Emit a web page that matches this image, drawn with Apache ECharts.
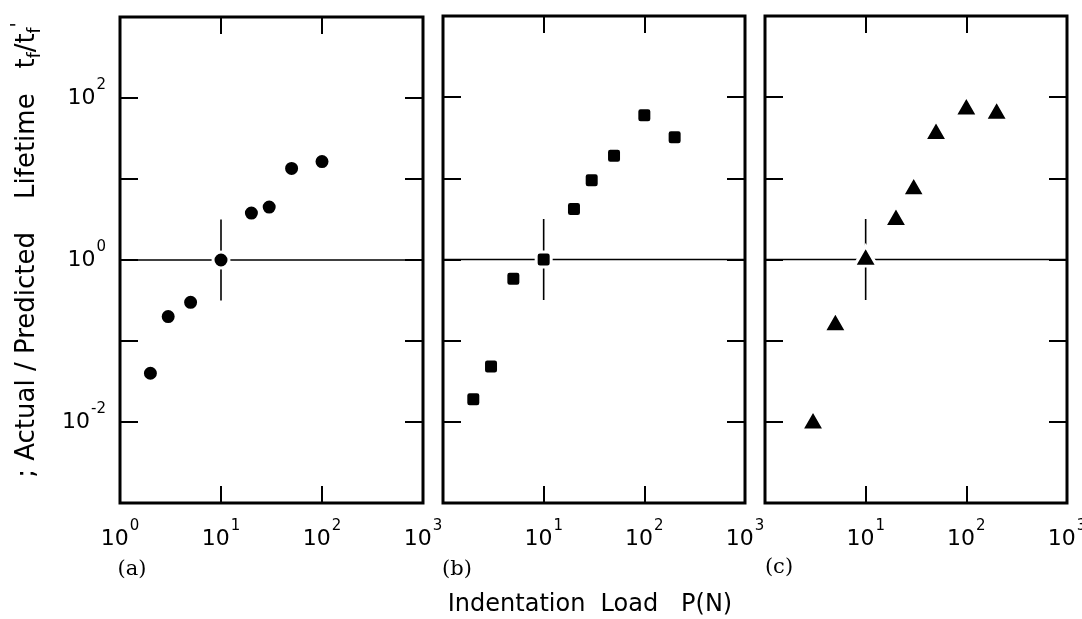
<!DOCTYPE html>
<html><head><meta charset="utf-8">
<script src="https://cdn.jsdelivr.net/npm/echarts@6/dist/echarts.min.js"></script>
<style>html,body{margin:0;padding:0;background:#fff}#c{width:1082px;height:619px}</style>
</head><body><div id="c"></div>
<script>
// ---- data ----
const loadsA = [2, 3, 5, 10, 20, 30, 50, 100];
const ratioA = [0.040, 0.20, 0.30, 1.0, 3.8, 4.5, 13.5, 16.4];
const loadsB = [2, 3, 5, 10, 20, 30, 50, 100, 200];
const ratioB = [0.019, 0.048, 0.58, 1.0, 4.2, 9.5, 19, 60, 32];
const loadsC = [3, 5, 10, 20, 30, 50, 100, 200];
const ratioC = [0.0106, 0.172, 1.1, 3.4, 8.1, 39, 78, 69];
const xExtent = [1, 1000];
const yExtent = [0.001, 1000];
const refLevel = 1;
const crossLoad = 10;
const crossSpan = [0.316, 3.16];
const yLabelExponents = [-2, 0, 2];
const xLabelExponentsA = [0, 1, 2, 3];
const xLabelExponentsBC = [1, 2, 3];
const panelLabels = ['(a)', '(b)', '(c)'];
const xTitle = 'Indentation  Load   P(N)';

// ---- layout ----
const grids = [
  {left: 120, top: 17, width: 303, height: 486},
  {left: 443, top: 16, width: 302, height: 487},
  {left: 765, top: 16, width: 302, height: 487}
];
const FONT = 'DejaVu Sans';
const rich = {
  b: {fontSize: 22, fontFamily: FONT, color: '#000', lineHeight: 40},
  s: {fontSize: 15, fontFamily: FONT, color: '#000', verticalAlign: 'top', padding: [0, 0, 0, 1]}
};
function powLabel(exps) {
  return function (v) {
    const e = Math.round(Math.log10(v));
    if (exps.indexOf(e) < 0) return '';
    return '{b|10}{s|' + (e < 0 ? '-' + (-e) : e) + '}';
  };
}
const panels = [
  {xs: loadsA, ys: ratioA, symbol: 'circle', size: 16, xExps: xLabelExponentsA, yLabels: true},
  {xs: loadsB, ys: ratioB, symbol: 'roundRect', size: 15, xExps: xLabelExponentsBC, yLabels: false},
  {xs: loadsC, ys: ratioC, symbol: 'triangle', size: [23, 20], xExps: xLabelExponentsBC, yLabels: false}
];

const xAxes = [], yAxes = [], series = [];
const tickStyle = {lineStyle: {color: '#000', width: 2}};
panels.forEach(function (p, i) {
  xAxes.push({gridIndex: i, type: 'log', logBase: 10, min: xExtent[0], max: xExtent[1], position: 'bottom',
    axisLine: {show: false}, splitLine: {show: false},
    axisTick: Object.assign({inside: true, length: 17}, tickStyle),
    axisLabel: {formatter: powLabel(p.xExps), rich: rich, fontSize: 22, fontFamily: FONT, color: '#000',
      margin: 16, showMinLabel: true, showMaxLabel: true, hideOverlap: false}});
  xAxes.push({gridIndex: i, type: 'log', logBase: 10, min: xExtent[0], max: xExtent[1], position: 'top',
    axisLine: {show: false}, splitLine: {show: false}, axisLabel: {show: false},
    axisTick: Object.assign({inside: true, length: 17}, tickStyle)});
  yAxes.push({gridIndex: i, type: 'log', logBase: 10, min: yExtent[0], max: yExtent[1], position: 'left',
    axisLine: {show: false}, splitLine: {show: false},
    axisTick: Object.assign({inside: true, length: 18}, tickStyle),
    axisLabel: p.yLabels ? {formatter: powLabel(yLabelExponents), rich: rich, fontSize: 22, fontFamily: FONT, color: '#000', margin: 14} : {show: false}});
  yAxes.push({gridIndex: i, type: 'log', logBase: 10, min: yExtent[0], max: yExtent[1], position: 'right',
    axisLine: {show: false}, splitLine: {show: false}, axisLabel: {show: false},
    axisTick: Object.assign({inside: true, length: 18}, tickStyle)});

  const xi = i * 2, yi = i * 2;
  series.push({type: 'line', xAxisIndex: xi, yAxisIndex: yi, symbol: 'none', silent: true, z: 1,
    lineStyle: {color: '#000', width: 1.6},
    data: [[xExtent[0], refLevel], [xExtent[1], refLevel]]});
  series.push({type: 'line', xAxisIndex: xi, yAxisIndex: yi, symbol: 'none', silent: true, z: 1,
    lineStyle: {color: '#000', width: 1.6},
    data: [[crossLoad, crossSpan[0]], [crossLoad, crossSpan[1]]]});
  series.push({type: 'scatter', xAxisIndex: xi, yAxisIndex: yi, z: 5,
    symbol: p.symbol, symbolSize: p.size,
    itemStyle: {color: '#000', borderColor: '#fff', borderWidth: 3, opacity: 1},
    data: p.xs.map(function (x, k) { return [x, p.ys[k]]; })});
});

const gridOpts = grids.map(function (g) {
  return Object.assign({show: true, borderColor: '#000', borderWidth: 3, backgroundColor: 'transparent',
    containLabel: false, outerBoundsMode: 'none'}, g);
});

const graphics = [
  {type: 'text', x: 27, y: 250, rotation: Math.PI / 2, style: {
    text: '{m|; Actual / Predicted    Lifetime   t}{sub|f}{m|/t}{sub|f}{sup|\'}',
    align: 'center', verticalAlign: 'middle',
    rich: {
      m: {fontSize: 26, fontFamily: FONT, fill: '#000', lineHeight: 34},
      sub: {fontSize: 17, fontFamily: FONT, fill: '#000', lineHeight: 12, verticalAlign: 'bottom'},
      sup: {fontSize: 19, fontFamily: FONT, fill: '#000', lineHeight: 10, verticalAlign: 'top'}
    }}},
  {type: 'text', x: 590, y: 605, style: {text: xTitle, fontSize: 24, fontFamily: FONT, fill: '#000', align: 'center', verticalAlign: 'middle'}}
];
const labelPos = [[132, 570], [457, 570], [779, 568]];
panelLabels.forEach(function (t, i) {
  graphics.push({type: 'text', x: labelPos[i][0], y: labelPos[i][1], style: {text: t, fontSize: 21, fontFamily: 'DejaVu Serif', fill: '#000', align: 'center', verticalAlign: 'middle'}});
});

const chart = echarts.init(document.getElementById('c'), null, {renderer: 'canvas'});
chart.setOption({
  backgroundColor: '#fff',
  animation: false,
  grid: gridOpts,
  xAxis: xAxes,
  yAxis: yAxes,
  series: series,
  graphic: graphics
});
</script>
</body></html>
